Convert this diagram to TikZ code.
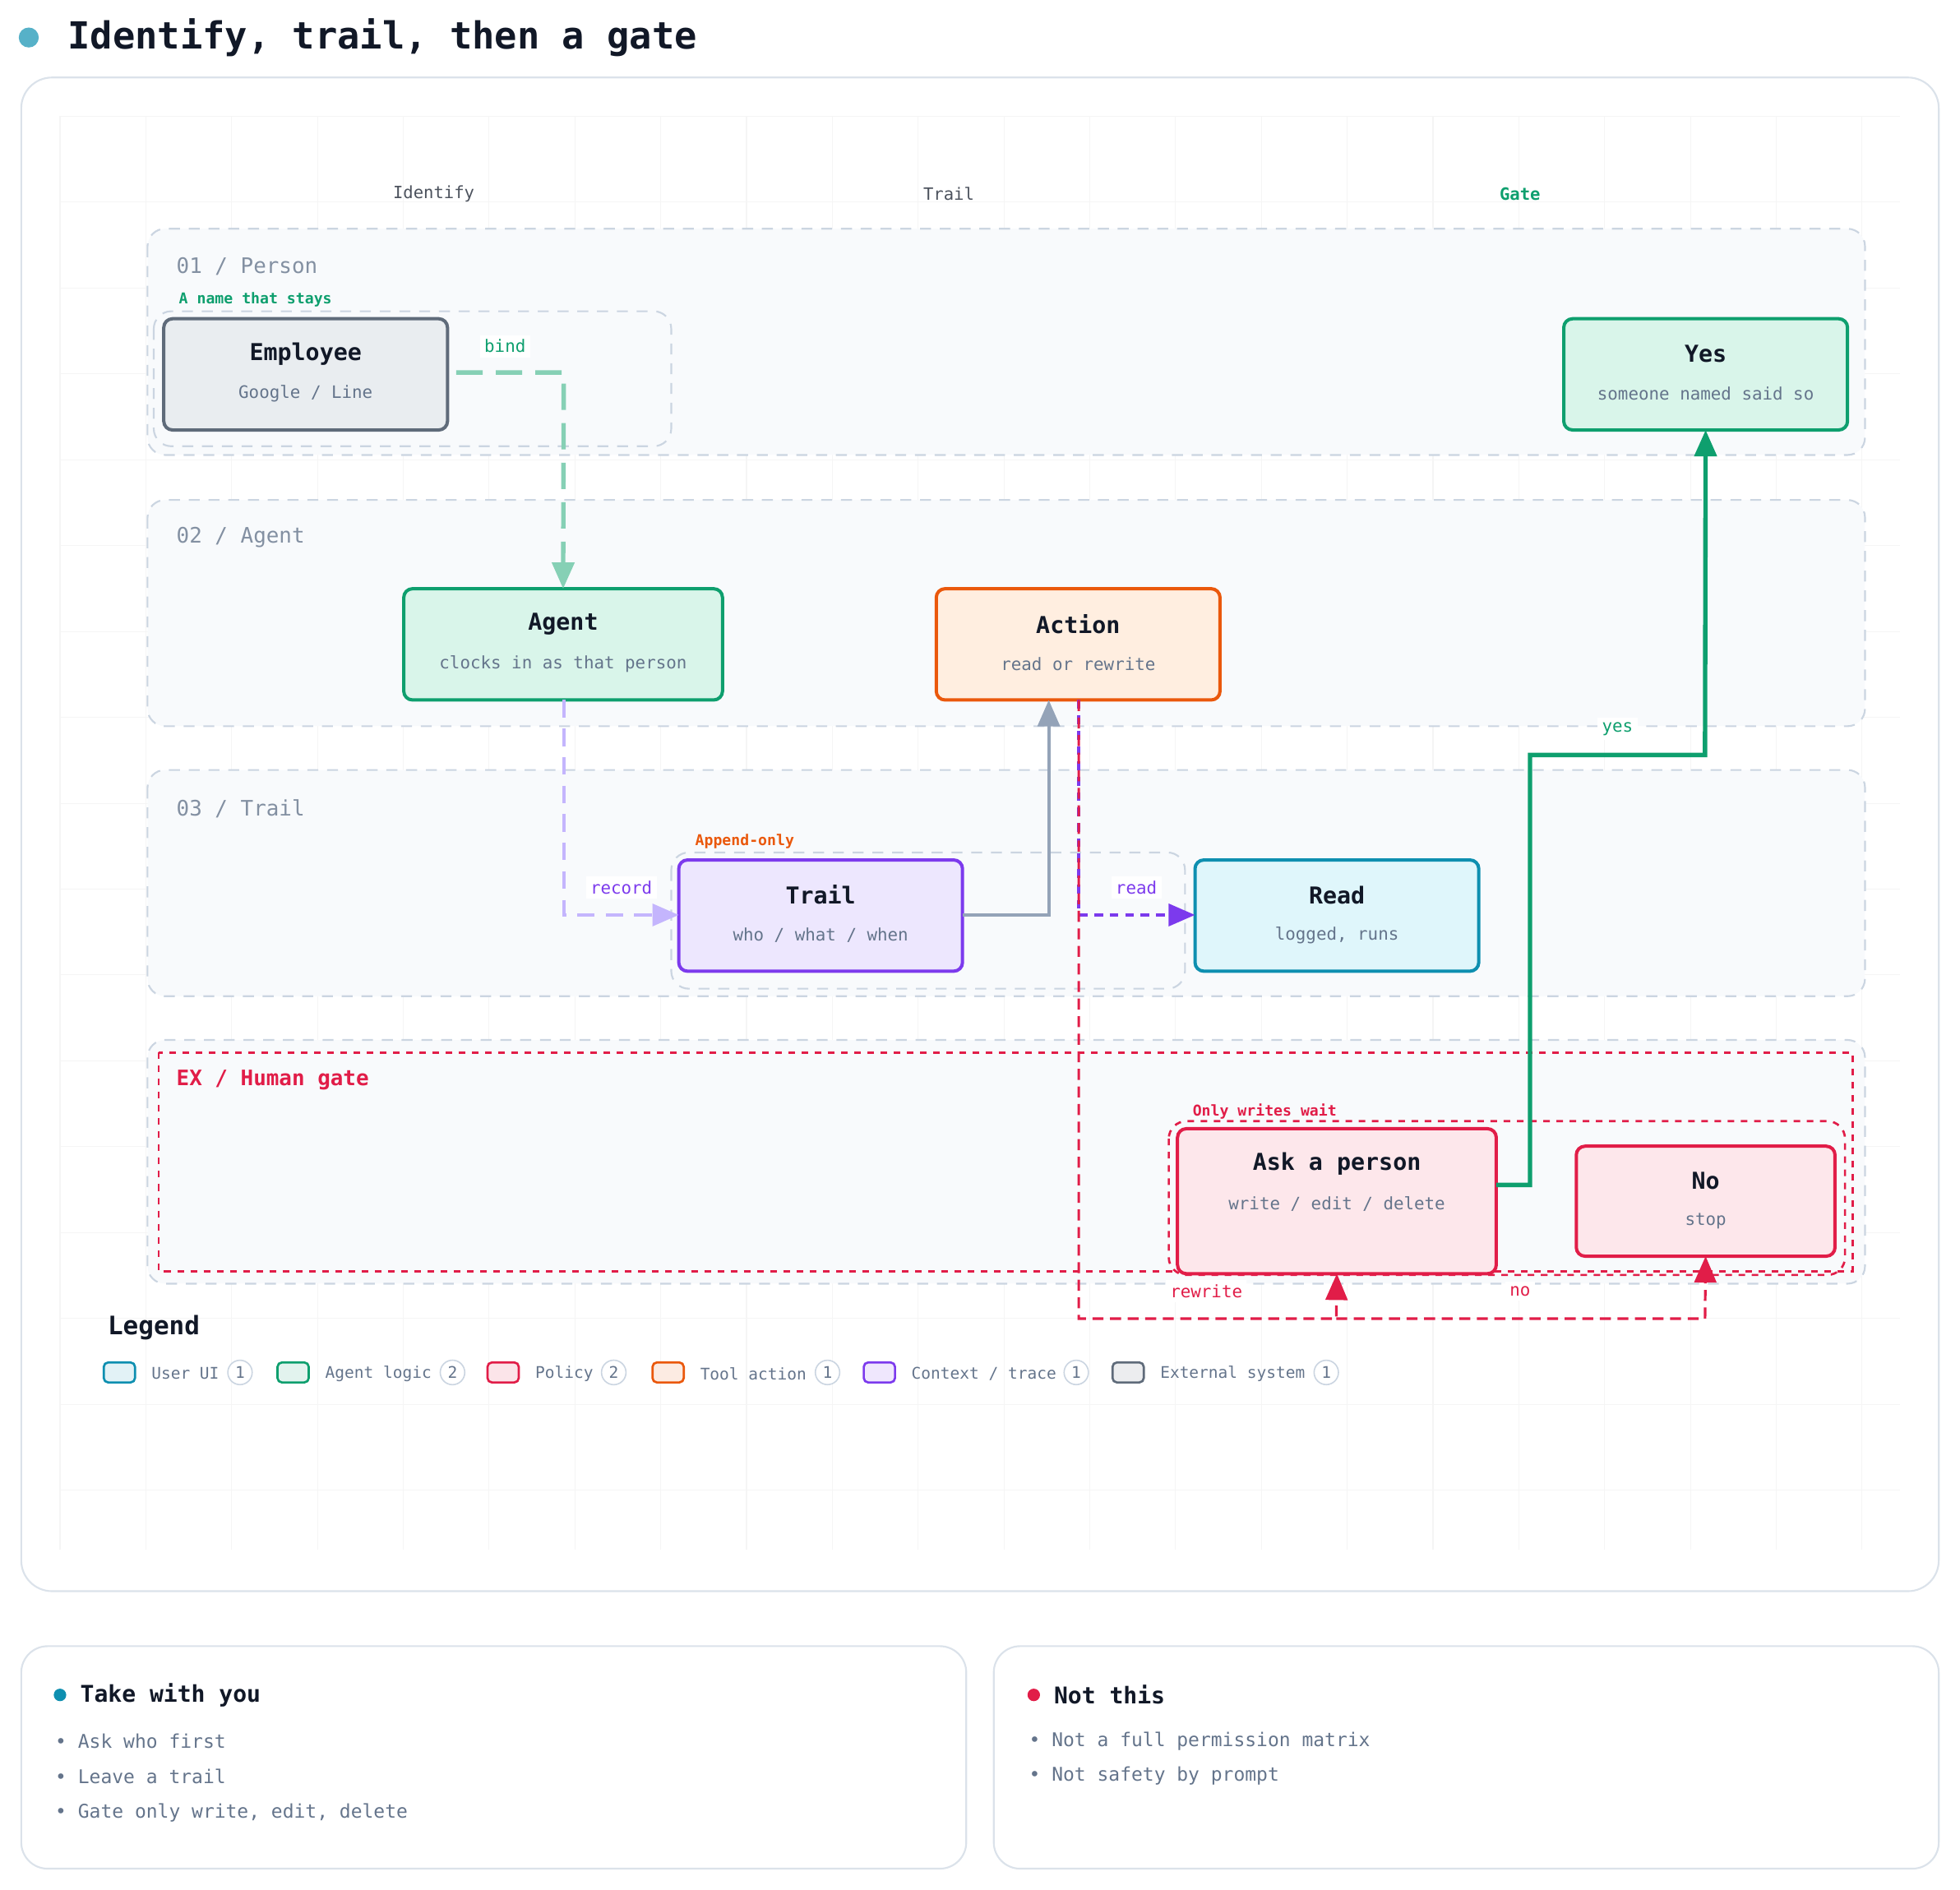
\documentclass[tikz,border=0pt]{standalone}
\usepackage{fontspec}
\setmainfont{DejaVu Sans Mono}
\usetikzlibrary{arrows.meta,positioning,calc}
\definecolor{ink}{HTML}{111827}
\definecolor{mute}{HTML}{64748B}
\definecolor{lanebd}{HTML}{CBD5E1}
\definecolor{lanebg}{HTML}{F8FAFC}
\definecolor{grn}{HTML}{0E9F6E}
\definecolor{grnbg}{HTML}{D9F5EA}
\definecolor{grnlt}{HTML}{86D0B5}
\definecolor{org}{HTML}{EA580C}
\definecolor{orgbg}{HTML}{FFEEE0}
\definecolor{pur}{HTML}{7C3AED}
\definecolor{purbg}{HTML}{EDE7FE}
\definecolor{purlt}{HTML}{C4B5FD}
\definecolor{cyn}{HTML}{0E8FB0}
\definecolor{cynbg}{HTML}{DFF6FB}
\definecolor{rd}{HTML}{E11D48}
\definecolor{rdbg}{HTML}{FDE7EB}
\definecolor{gry}{HTML}{5F6B7A}
\definecolor{grybg}{HTML}{E9EDF0}
\definecolor{edge}{HTML}{94A3B8}
\tikzset{
  lane/.style={draw=lanebd,fill=lanebg,dashed,line width=0.8pt,rounded corners=8pt,dash pattern=on 5pt off 4pt},
  grp/.style={draw=lanebd,dashed,line width=0.8pt,rounded corners=8pt,dash pattern=on 5pt off 4pt},
  card/.style={line width=1.5pt,rounded corners=4pt},
  ttl/.style={font=\fontsize{10.6}{12}\selectfont\bfseries,text=ink},
  sub/.style={font=\fontsize{7.8}{9}\selectfont,text=mute},
  tag/.style={font=\fontsize{6.8}{8}\selectfont\bfseries,anchor=west},
  lbl/.style={font=\fontsize{7.8}{9}\selectfont,fill=white,inner sep=2pt},
  tip/.style={-{Triangle[length=12pt,width=10pt]}},
  leg/.style={font=\fontsize{7.3}{9}\selectfont,text=mute,anchor=west},
  cnt/.style={circle,draw=lanebd,line width=0.6pt,fill=white,inner sep=1.5pt,font=\fontsize{7.3}{9}\selectfont,text=mute},
  note/.style={font=\fontsize{8.6}{10}\selectfont,text=mute,anchor=west}
}
\newcommand{\card}[8]{%
  \draw[card,#6] (#2,#3) rectangle (#4,#5);
  \node[ttl] (#1) at ({(#2+#4)/2},#3+28) {#7};
  \node[sub] (#1s) at ({(#2+#4)/2},#3+60) {#8};
  \coordinate (#1N) at ({(#2+#4)/2},#3);
  \coordinate (#1S) at ({(#2+#4)/2},#5);
}
\begin{document}
\begin{tikzpicture}[x=0.02cm,y=-0.02cm]
\useasboundingbox (0,0) rectangle (1568,1512);
% title
\fill[cyn!70] (23,30) circle (8);
\node[anchor=west,font=\fontsize{17}{20}\selectfont\bfseries,text=ink] (title) at (48,30) {Identify, trail, then a gate};
% main panel
\draw[lanebd!70,line width=0.8pt,rounded corners=14pt] (17,62) rectangle (1551,1273);
\foreach \i in {0,...,21} \draw[gray!8] (48+\i*68.65,93) -- (48+\i*68.65,1240);
\foreach \j in {0,...,16} \draw[gray!8] (48,93+\j*68.7) -- (1520,93+\j*68.7);
\node[font=\fontsize{7.7}{9}\selectfont,text=ink!75] (hid) at (347,155) {Identify};
\node[font=\fontsize{7.7}{9}\selectfont,text=ink!75] (htr) at (759,155) {Trail};
\node[font=\fontsize{7.7}{9}\selectfont\bfseries,text=grn] (hga) at (1216,155) {Gate};
% lanes
\draw[lane] (118,183) rectangle (1492,364);
\draw[lane] (118,400) rectangle (1492,581);
\draw[lane] (118,616) rectangle (1492,797);
\draw[lane] (118,832) rectangle (1492,1027);
\foreach \y/\t in {213/{01 / Person},430/{02 / Agent},647/{03 / Trail}}
  \node[anchor=west,font=\fontsize{9.7}{11}\selectfont,text=mute!80] at (135,\y) {\t};
\node[anchor=west,font=\fontsize{9.7}{11}\selectfont\bfseries,text=rd] (exl) at (135,864) {EX / Human gate};
\draw[rd,dashed,line width=1pt] (127,842) rectangle (1482,1017);
% groups
\draw[grp] (123,249) rectangle (537,357);
\node[tag,text=grn] at (137,240) {A name that stays};
\draw[grp] (537,682) rectangle (948,791);
\node[tag,text=org] at (550,673) {Append-only};
\draw[rd,dashed,line width=1pt,rounded corners=8pt] (935,897) rectangle (1476,1020);
\node[tag,text=rd] at (948,889) {Only writes wait};
% cards
\card{emp}{131}{255}{358}{344}{draw=gry,fill=grybg}{Employee}{Google / Line}
\card{yes}{1251}{255}{1478}{344}{draw=grn,fill=grnbg}{Yes}{someone named said so}
\card{agt}{323}{471}{578}{560}{draw=grn,fill=grnbg}{Agent}{clocks in as that person}
\card{act}{749}{471}{976}{560}{draw=org,fill=orgbg}{Action}{read or rewrite}
\card{trl}{543}{688}{770}{777}{draw=pur,fill=purbg}{Trail}{who / what / when}
\card{red}{956}{688}{1183}{777}{draw=cyn,fill=cynbg}{Read}{logged, runs}
\card{ask}{942}{903}{1197}{1019}{draw=rd,fill=rdbg}{Ask a person}{write / edit / delete}
\card{no}{1261}{917}{1468}{1005}{draw=rd,fill=rdbg}{No}{stop}
% connectors
\coordinate (empE) at (365,298);
\draw[grnlt,dashed,line width=2pt,dash pattern=on 12pt off 6pt,tip] (empE) -- (451,298) -- (agtN);
\node[lbl,text=grn] at (404,277) {bind};
\draw[purlt,dashed,line width=1.6pt,dash pattern=on 8pt off 5pt,tip] (451,560) -- (451,732) -- (543,732);
\node[lbl,text=pur] at (497,710) {record};
\draw[edge,line width=1.6pt,tip] (770,732) -- (839,732) -- (839,560);
\draw[pur,dashed,line width=1.6pt,dash pattern=on 4pt off 3pt,tip] (863,560) -- (863,732) -- (956,732);
\node[lbl,text=pur] at (909,710) {read};
\draw[rd,dashed,line width=1.2pt,dash pattern=on 5pt off 3pt,tip] (863,560) -- (863,1055) -- (1069,1055) -- (askS);
\node[lbl,text=rd] at (965,1033) {rewrite};
\draw[rd,dashed,line width=1.2pt,dash pattern=on 5pt off 3pt,tip] (1069,1055) -- (1364,1055) -- (noS);
\node[lbl,text=rd] at (1216,1033) {no};
\draw[grn,line width=2pt,tip] (1197,948) -- (1224,948) -- (1224,604) -- (1364,604) -- (yesS);
\node[lbl,text=grn] at (1294,583) {yes};
% legend
\node[anchor=west,font=\fontsize{11.6}{13}\selectfont\bfseries,text=ink] (leg) at (80,1062) {Legend};
\foreach \x/\c/\t/\n/\cx in {83/cyn/{User UI}/1/192,222/grn/{Agent logic}/2/362,390/rd/{Policy}/2/491,522/org/{Tool action}/1/662,691/pur/{Context / trace}/1/861,890/gry/{External system}/1/1061}{
  \draw[\c,fill=\c!12,line width=1pt,rounded corners=2pt] (\x,1090) rectangle (\x+25,1106);
  \node[leg] at (\x+32,1099) {\t};
  \node[cnt] at (\cx,1098) {\n};
}
% bottom panels
\draw[lanebd!70,line width=0.8pt,rounded corners=12pt] (17,1317) rectangle (773,1495);
\draw[lanebd!70,line width=0.8pt,rounded corners=12pt] (795,1317) rectangle (1551,1495);
\fill[cyn] (48,1356) circle (5);
\node[anchor=west,font=\fontsize{10.5}{12}\selectfont\bfseries,text=ink] (take) at (58,1356) {Take with you};
\node[note] at (38,1393) {• Ask who first};
\node[note] at (38,1421) {• Leave a trail};
\node[note] at (38,1450) {• Gate only write, edit, delete};
\fill[rd] (827,1356) circle (5);
\node[anchor=west,font=\fontsize{10.5}{12}\selectfont\bfseries,text=ink] (nott) at (837,1356) {Not this};
\node[note] at (817,1393) {• Not a full permission matrix};
\node[note] at (817,1421) {• Not safety by prompt};
\end{tikzpicture}
\end{document}
